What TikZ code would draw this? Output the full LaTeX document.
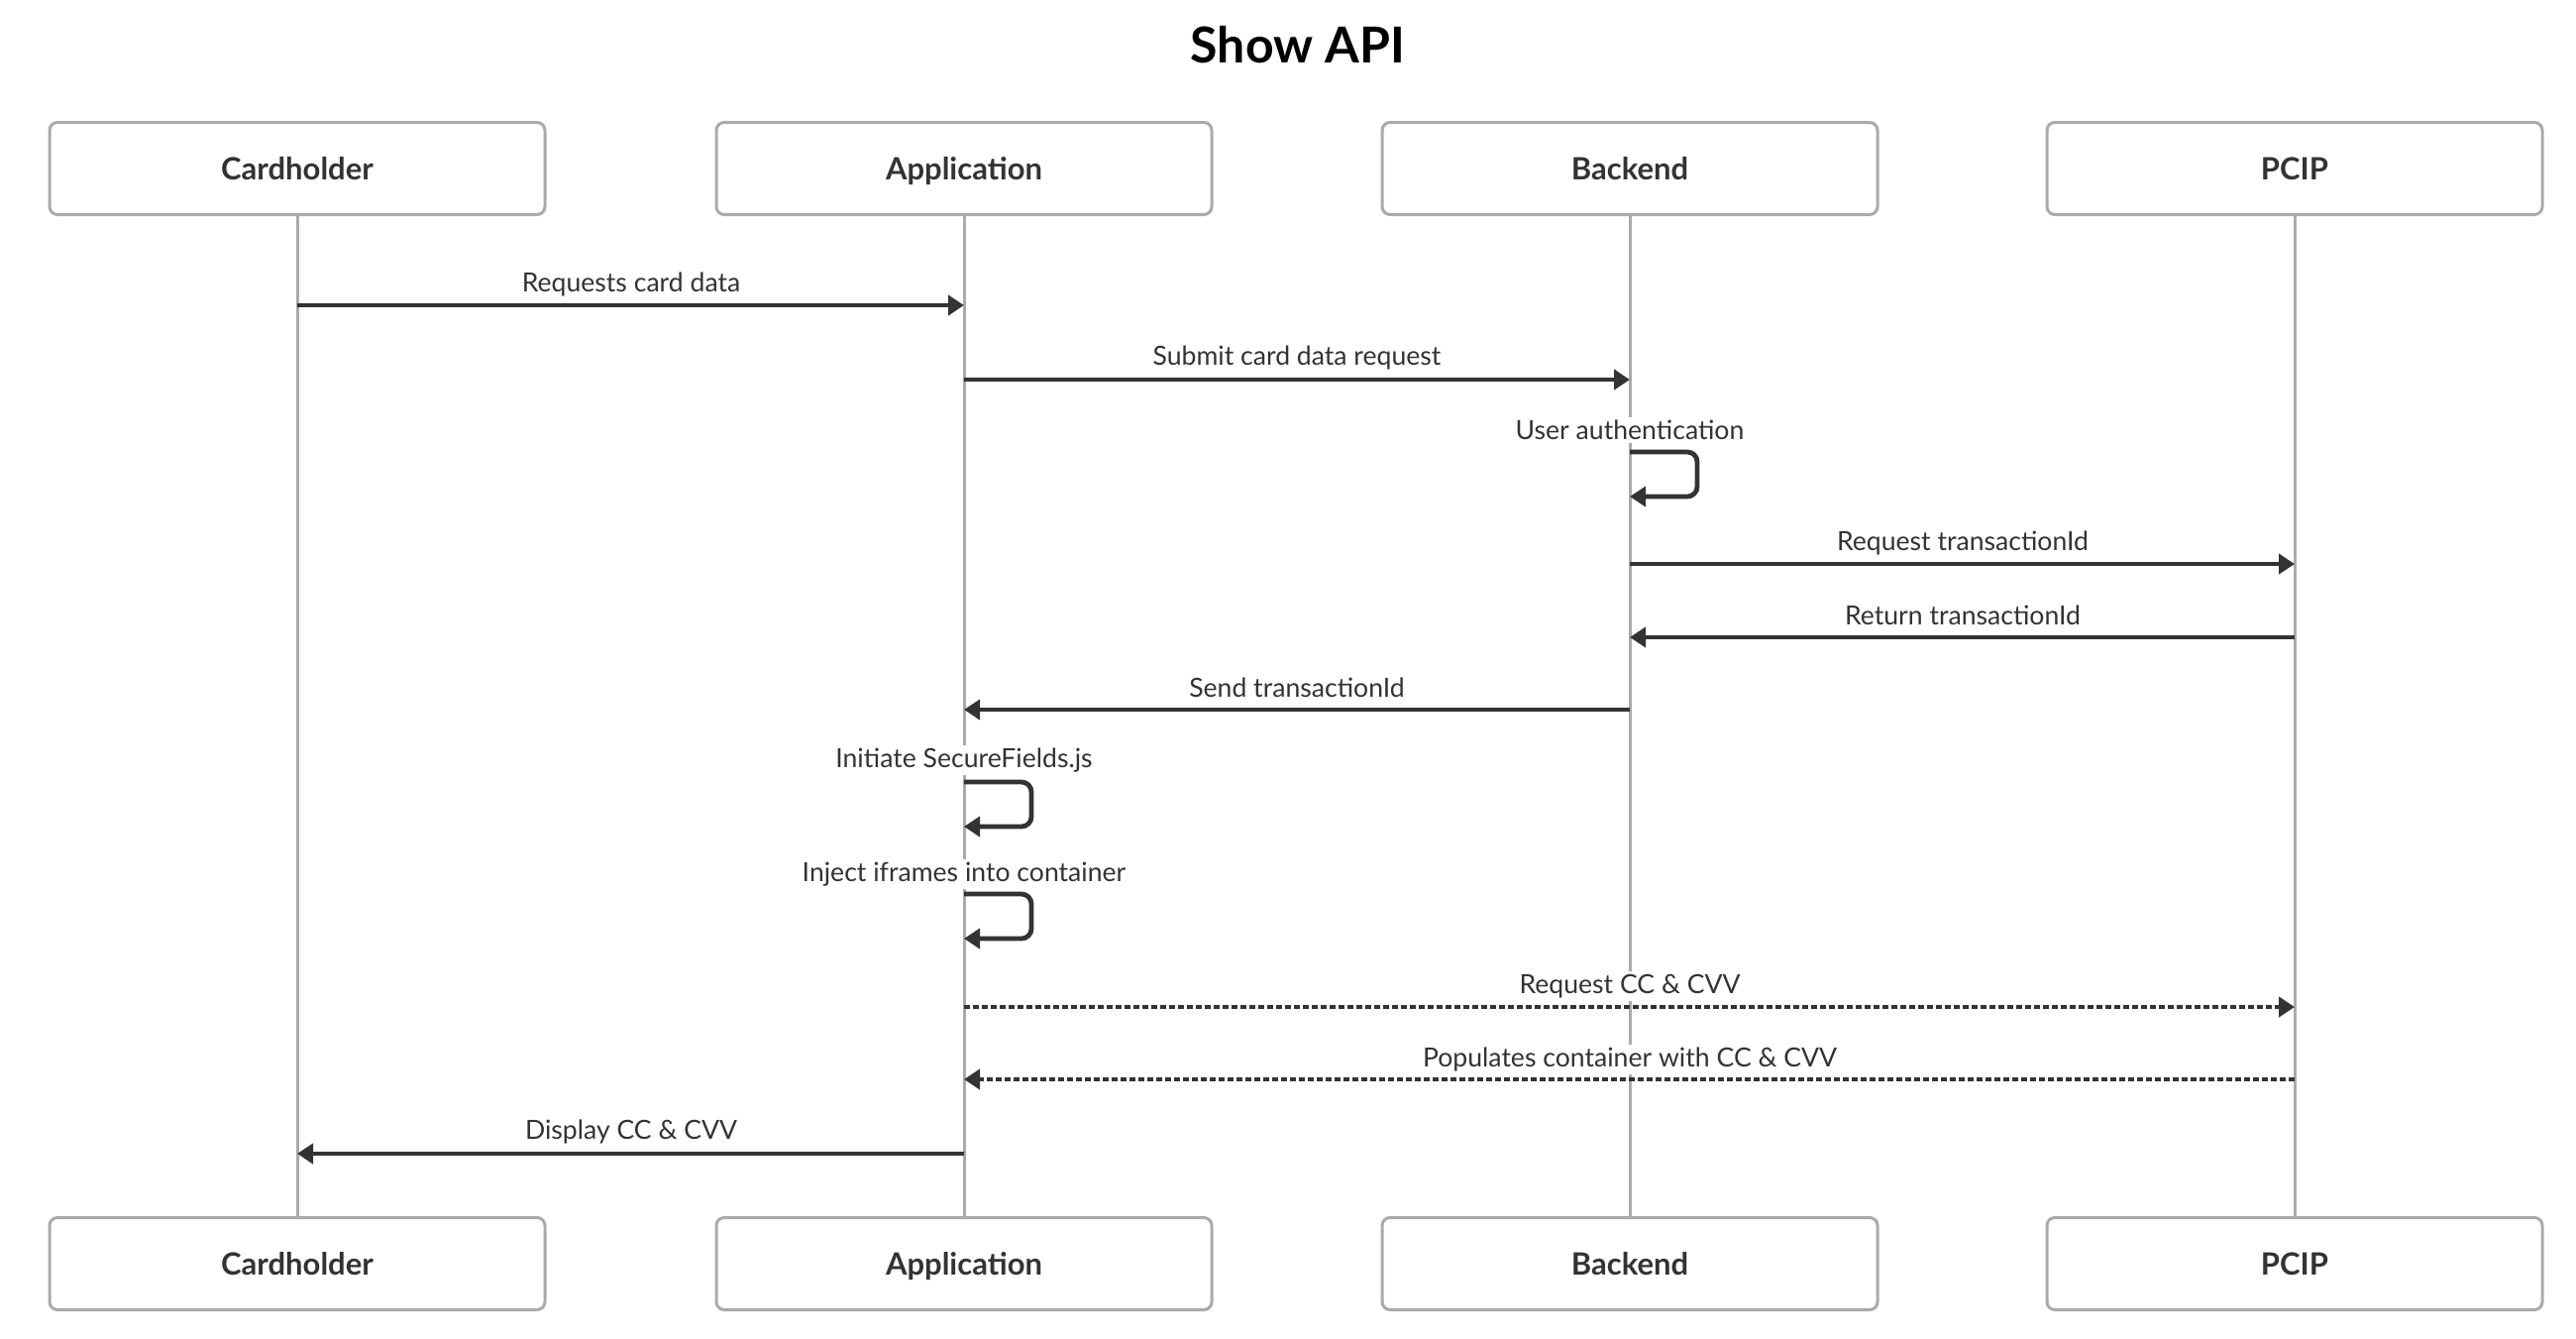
\documentclass[tikz,border=0pt]{standalone}
\usepackage{fontspec}
\setmainfont{Lato}
\usetikzlibrary{arrows.meta}
\definecolor{ink}{HTML}{333333}
\definecolor{boxgray}{HTML}{AAAAAA}
\begin{document}
\begin{tikzpicture}[x=0.5pt,y=-0.5pt,
 actor/.style={draw=boxgray,line width=1.5pt,rounded corners=4pt,minimum width=250pt,minimum height=46.5pt,fill=white,font=\bfseries\fontsize{15.5}{18}\selectfont,text=ink,inner sep=0pt,text height=12.5pt,text depth=1pt},
 life/.style={draw=boxgray,line width=1.5pt},
 msg/.style={draw=ink,line width=2.4pt,-{Triangle[length=8pt,width=10pt]}},
 dmsg/.style={msg,dash pattern=on 3pt off 1.5pt},
 selfmsg/.style={msg,rounded corners=5pt},
 lbl/.style={fill=white,inner sep=1.5pt,font=\fontsize{13.3}{15}\selectfont,text=ink},
 ]
\useasboundingbox (0,0) rectangle (2600,1350);
\node[font=\bfseries\fontsize{25}{28}\selectfont,text=black] (title) at (1310,45) {Show API};
% actor boxes
\node[actor] (ch1) at (300,170) {Cardholder};
\node[actor] (ap1) at (973,170) {Application};
\node[actor] (be1) at (1645,170) {Backend};
\node[actor] (pc1) at (2316,170) {PCIP};
\node[actor] (ch2) at (300,1275) {Cardholder};
\node[actor] (ap2) at (973,1275) {Application};
\node[actor] (be2) at (1645,1275) {Backend};
\node[actor] (pc2) at (2316,1275) {PCIP};
% lifelines
\draw[life] (ch1.south) -- (ch2.north);
\draw[life] (ap1.south) -- (ap2.north);
\draw[life] (be1.south) -- (be2.north);
\draw[life] (pc1.south) -- (pc2.north);
% message rows
\coordinate (r1) at (0,308);
\coordinate (r2) at (0,383);
\coordinate (r3a) at (0,456);
\coordinate (r3b) at (0,501);
\coordinate (r4) at (0,569);
\coordinate (r5) at (0,643);
\coordinate (r6) at (0,716);
\coordinate (r7a) at (0,789);
\coordinate (r7b) at (0,834);
\coordinate (r8a) at (0,902);
\coordinate (r8b) at (0,947);
\coordinate (r9) at (0,1016);
\coordinate (r10) at (0,1089);
\coordinate (r11) at (0,1164);
% labels
\node[lbl] (l1) at (637,287) {Requests card data};
\node[lbl] (l2) at (1309,361) {Submit card data request};
\node[lbl] (l3) at (1645,434) {User authentication};
\node[lbl] (l4) at (1981,548) {Request transactionId};
\node[lbl] (l5) at (1981,621) {Return transactionId};
\node[lbl] (l6) at (1309,694) {Send transactionId};
\node[lbl] (l7) at (973,767) {Initiate SecureFields.js};
\node[lbl] (l8) at (973,882) {Inject iframes into container};
\node[lbl] (l9) at (1645,995) {Request CC \& CVV};
\node[lbl] (l10) at (1645,1069) {Populates container with CC \& CVV};
\node[lbl] (l11) at (637,1142) {Display CC \& CVV};
% messages
\draw[msg] (ch1 |- r1) -- (ap1 |- r1);
\draw[msg] (ap1 |- r2) -- (be1 |- r2);
\draw[selfmsg] (be1 |- r3a) -- ++(68,0) |- (be1 |- r3b);
\draw[msg] (be1 |- r4) -- (pc1 |- r4);
\draw[msg] (pc1 |- r5) -- (be1 |- r5);
\draw[msg] (be1 |- r6) -- (ap1 |- r6);
\draw[selfmsg] (ap1 |- r7a) -- ++(68,0) |- (ap1 |- r7b);
\draw[selfmsg] (ap1 |- r8a) -- ++(68,0) |- (ap1 |- r8b);
\draw[dmsg] (ap1 |- r9) -- (pc1 |- r9);
\draw[dmsg] (pc1 |- r10) -- (ap1 |- r10);
\draw[msg] (ap1 |- r11) -- (ch1 |- r11);
\end{tikzpicture}
\end{document}
